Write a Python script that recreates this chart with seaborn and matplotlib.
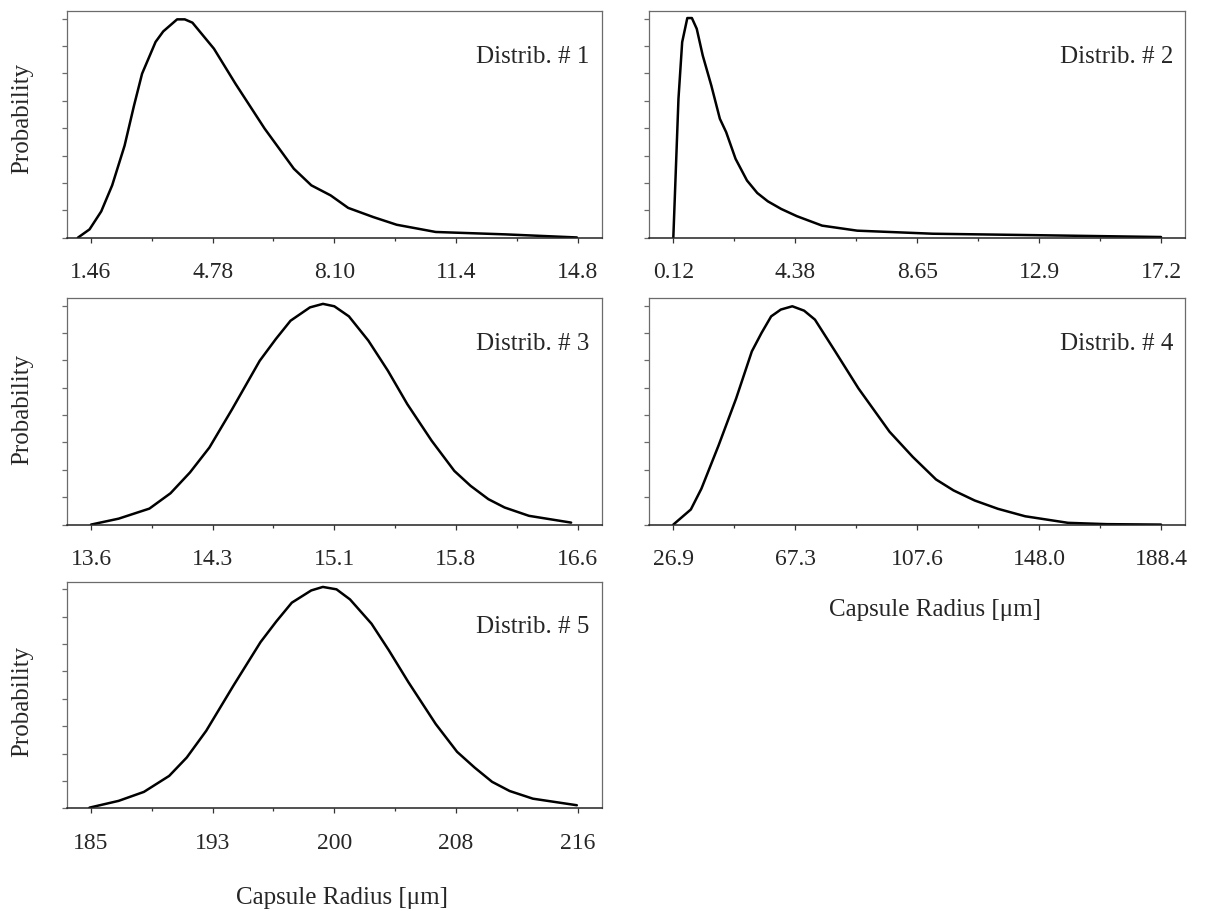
import numpy as np
import pandas as pd
import matplotlib
matplotlib.use("Agg")
import matplotlib.pyplot as plt
import seaborn as sns

sns.set_style("ticks")
plt.rcParams['font.family'] = ['Liberation Serif', 'DejaVu Serif']

# capsule radius distributions (probability normalised to peak)
d1_x = [1.10, 1.42, 1.74, 2.04, 2.38, 2.64, 2.86, 3.23, 3.44, 3.82, 4.03, 4.24, 4.83,
        5.42, 6.22, 7.02, 7.50, 8.03, 8.51, 9.20, 9.84, 10.91, 12.83, 14.78]
d1_y = [0.0, 0.038, 0.12, 0.239, 0.42, 0.604, 0.749, 0.894, 0.942, 0.997, 0.997, 0.982, 0.863,
        0.703, 0.498, 0.315, 0.239, 0.193, 0.136, 0.094, 0.059, 0.026, 0.015, 0.001]

d2_x = [0.12, 0.30, 0.43, 0.61, 0.77, 0.94, 1.15, 1.45, 1.75, 1.97, 2.30, 2.70, 3.06,
        3.43, 3.90, 4.45, 5.33, 6.56, 9.21, 12.48, 17.2]
d2_y = [0.0, 0.634, 0.893, 1.003, 1.003, 0.954, 0.832, 0.695, 0.543, 0.482, 0.360, 0.261, 0.204,
        0.166, 0.131, 0.098, 0.055, 0.032, 0.018, 0.012, 0.003]

d3_x = [13.60, 13.77, 13.96, 14.09, 14.21, 14.33, 14.47, 14.64, 14.74, 14.83, 14.95, 15.03,
        15.10, 15.19, 15.31, 15.43, 15.55, 15.70, 15.84, 15.94, 16.05, 16.15, 16.30, 16.56]
d3_y = [0.0, 0.027, 0.073, 0.143, 0.238, 0.352, 0.527, 0.748, 0.848, 0.931, 0.992, 1.008,
        0.997, 0.951, 0.840, 0.703, 0.550, 0.383, 0.245, 0.177, 0.116, 0.078, 0.040, 0.009]

d4_x = [26.9, 32.7, 36.2, 41.9, 47.7, 52.9, 56.1, 59.3, 62.5, 66.3, 70.2, 73.8, 80.5,
        88.2, 98.5, 106.2, 113.9, 119.7, 126.7, 134.4, 143.4, 157.6, 170.4, 188.4]
d4_y = [0.0, 0.069, 0.164, 0.362, 0.576, 0.791, 0.875, 0.951, 0.982, 0.997, 0.977, 0.936, 0.791,
        0.622, 0.424, 0.309, 0.206, 0.156, 0.110, 0.072, 0.038, 0.008, 0.002, 0.0]

d5_x = [184.9, 186.76, 188.37, 189.98, 191.1, 192.34, 194.07, 195.8, 196.8, 197.79, 199.03,
        199.77, 200.64, 201.5, 202.87, 203.98, 205.22, 206.96, 208.32, 209.44, 210.55,
        211.67, 213.15, 215.95]
d5_y = [0.003, 0.034, 0.075, 0.148, 0.232, 0.354, 0.560, 0.759, 0.853, 0.939, 0.995,
        1.011, 1.0, 0.954, 0.843, 0.721, 0.576, 0.385, 0.258, 0.186, 0.121,
        0.079, 0.044, 0.014]

# axis ranges (first / last tick) and tick labels as printed
ranges = [(1.46, 14.8), (0.12, 17.2), (13.6, 16.6), (26.9, 188.4), (185, 216)]
tick_labels = [
    ["1.46", "4.78", "8.10", "11.4", "14.8"],
    ["0.12", "4.38", "8.65", "12.9", "17.2"],
    ["13.6", "14.3", "15.1", "15.8", "16.6"],
    ["26.9", "67.3", "107.6", "148.0", "188.4"],
    ["185", "193", "200", "208", "216"],
]
titles = ["Distrib. # 1", "Distrib. # 2", "Distrib. # 3", "Distrib. # 4", "Distrib. # 5"]
series = [(d1_x, d1_y), (d2_x, d2_y), (d3_x, d3_y), (d4_x, d4_y), (d5_x, d5_y)]

fig = plt.figure(figsize=(12.08, 9.12), dpi=100)

# [left, bottom, width, height] in figure fraction
left_col, right_col = 0.0552, 0.5372
w_left, w_right = 0.4431, 0.4441
h = 0.2485
bottoms = [0.7383, 0.4237, 0.1126]
boxes = [
    [left_col, bottoms[0], w_left, h],
    [right_col, bottoms[0], w_right, h],
    [left_col, bottoms[1], w_left, h],
    [right_col, bottoms[1], w_right, h],
    [left_col, bottoms[2], w_left, h],
]
ylabel_y = [0.529, None, 0.514, None, 0.478]

spine_col = "#6b6b6b"

for i, (xs, ys) in enumerate(series):
    ax = fig.add_axes(boxes[i])
    df = pd.DataFrame({"r": xs, "p": ys})
    sns.lineplot(data=df, x="r", y="p", ax=ax, color="black", linewidth=1.8,
                 sort=False, estimator=None)

    lo, hi = ranges[i]
    span = hi - lo
    ax.set_xlim(lo - 0.05 * span, hi + 0.05 * span)
    ax.set_ylim(0, 1.035)

    major = np.linspace(lo, hi, 5)
    minor = (major[:-1] + major[1:]) / 2
    ax.set_xticks(major)
    ax.set_xticklabels(tick_labels[i])
    ax.set_xticks(minor, minor=True)
    ax.set_yticks(np.linspace(0, 1, 9))
    ax.set_yticklabels([])

    ax.tick_params(axis="x", which="major", length=3.3, width=0.9, color="#333333",
                   pad=13.4, labelsize=17)
    ax.tick_params(axis="x", which="minor", length=2.0, width=0.9, color="#333333")
    ax.tick_params(axis="y", which="major", length=3.6, width=0.9, color=spine_col)

    for s in ["left", "top", "right"]:
        ax.spines[s].set_color(spine_col)
        ax.spines[s].set_linewidth(0.9)
    ax.spines["bottom"].set_color("#222222")
    ax.spines["bottom"].set_linewidth(1.1)

    ax.text(0.977, 0.776, titles[i], transform=ax.transAxes, ha="right", va="baseline",
            fontsize=18)

    if i % 2 == 0:
        ax.set_ylabel("Probability", fontsize=18)
        ax.yaxis.set_label_coords(-0.062, ylabel_y[i])
    else:
        ax.set_ylabel("")

    if i in (3, 4):
        ax.set_xlabel("Capsule Radius [\u03bcm]", fontsize=18)
        if i == 3:
            ax.xaxis.set_label_coords(0.5326, -0.326)
        else:
            ax.xaxis.set_label_coords(0.5135, -0.344)
    else:
        ax.set_xlabel("")

fig.savefig("out.png", dpi=100)
